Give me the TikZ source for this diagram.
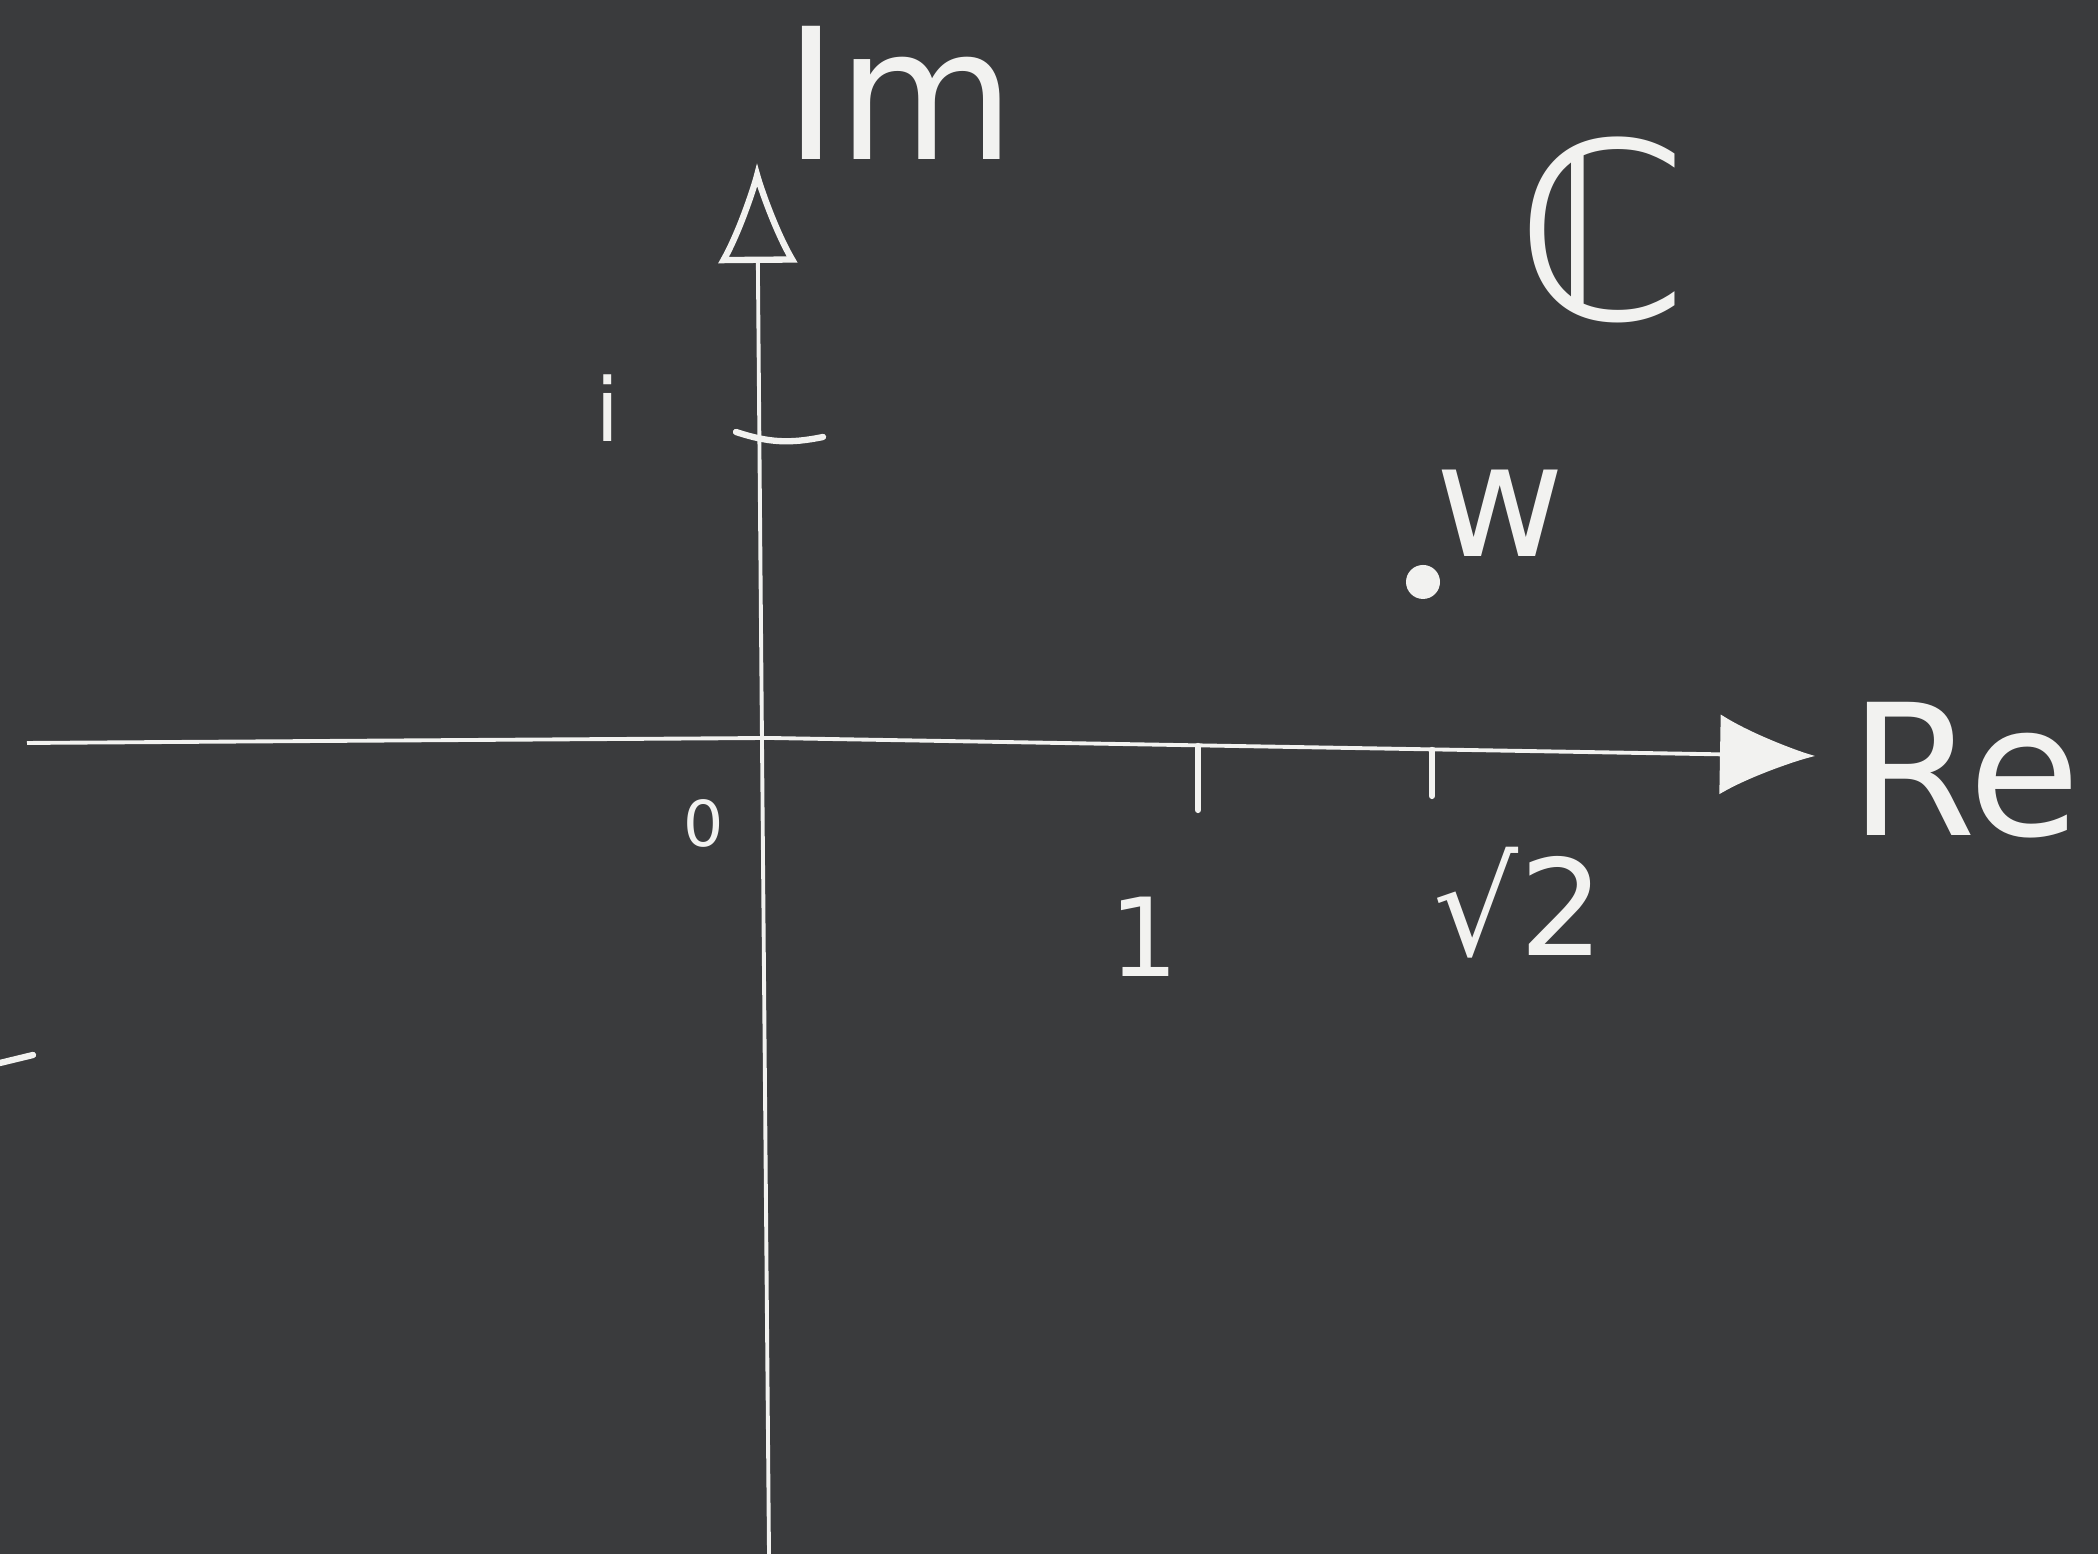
\documentclass[tikz,border=0pt]{standalone}
\usepackage{fontspec}
\setmainfont{DejaVu Sans}
\usetikzlibrary{arrows.meta, positioning}
\definecolor{board}{HTML}{3A3B3D}
\definecolor{chalk}{HTML}{F2F2F0}
\tikzset{
  % assi del piano
  axis/.style={chalk, line width=1.1pt},
  % tacche sugli assi
  tick/.style={chalk, line width=1.8pt, line cap=round},
  % etichette in gesso
  lbl/.style={text=chalk, inner sep=0pt, align=center},
  bigl/.style={lbl, font=\fontsize{52}{52}\selectfont},
  midl/.style={lbl, font=\fontsize{31}{31}\selectfont},
}

\begin{document}
\begin{tikzpicture}
  \fill[board] (0,0) rectangle (20.98,15.54);
  \useasboundingbox (0,0) rectangle (20.98,15.54);
  % assi
  \coordinate (xl) at (0.27,8.11);
  \coordinate (o) at (7.69,8.16);
  \coordinate (xr) at (18.15,7.98);
  \coordinate (yb) at (7.69,0);
  \coordinate (yt) at (7.57,13.91);
  \draw[axis, -{Latex[length=9.5mm, width=8mm]}] (xl) -- (o) -- (xr);
  \draw[axis, -{Latex[open, length=10mm, width=8mm, line width=1.8pt]}] (yb) -- (yt);
  % tacche
  \coordinate (ia) at (7.36,11.22);
  \coordinate (ib) at (8.23,11.17);
  \draw[tick] (ia) to[bend right=15] (ib);
  \coordinate (t1a) at (11.98,8.08);
  \coordinate (t1b) at (11.98,7.44);
  \draw[tick] (t1a) -- (t1b);
  \coordinate (t2a) at (14.32,8.04);
  \coordinate (t2b) at (14.32,7.58);
  \draw[tick] (t2a) -- (t2b);
  % etichette
  \node[bigl] (im) at (9.0,14.61) {Im};
  \node[bigl] (re) at (19.65,7.84) {Re};
  \node[lbl, font=\fontsize{70}{70}\selectfont] (cc) at (16.02,13.24) {ℂ};
  \node[lbl, font=\fontsize{25}{25}\selectfont] (il) at (6.08,11.46) {i};
  \node[lbl, font=\fontsize{18}{18}\selectfont] (ol) at (7.04,7.31) {0};
  \node[midl] (one) at (11.44,6.17) {1};
  \node[lbl, font=\fontsize{38}{38}\selectfont] (sq) at (15.19,6.51) {√2};
  % punto w
  \node[circle, fill=chalk, minimum size=0.34cm, inner sep=0pt] (wpt) at (14.23,9.72) {};
  \node[lbl, font=\fontsize{45}{45}\selectfont] (wl) at (15.0,10.41) {w};
  % tratto sul bordo
  \draw[tick] (0,4.91) -- (0.33,4.99);
\end{tikzpicture}
\end{document}
